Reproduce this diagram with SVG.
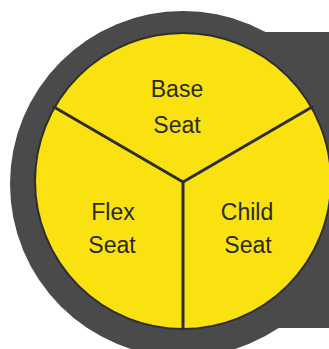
<svg xmlns="http://www.w3.org/2000/svg" width="329" height="349" viewBox="0 0 329 349">
<style>
.lbl{font-family:"Liberation Sans",Arial,sans-serif;font-size:23px;fill:#2a2a22;text-anchor:middle}
.div{stroke:#2e2e2e;stroke-width:3;fill:none;stroke-linecap:round}
</style>
<rect width="329" height="349" fill="#ffffff"/>
<rect id="backdrop" x="180" y="32" width="149" height="296" fill="#4a4a4a"/>
<circle id="ring" cx="183" cy="184" r="173" fill="#4a4a4a"/>
<circle id="disc" cx="183" cy="181" r="148" fill="#f9e20f" stroke="#2e2e2e" stroke-width="2"/>
<g id="connectors">
<line class="div" x1="183" y1="182" x2="183" y2="329"/>
<line class="div" x1="183" y1="182" x2="54" y2="107"/>
<line class="div" x1="183" y1="182" x2="312" y2="107"/>
</g>
<g id="base"><text class="lbl" x="177" y="97">Base</text><text class="lbl" x="177" y="133">Seat</text></g>
<g id="flex"><text class="lbl" x="113" y="220">Flex</text><text class="lbl" x="112" y="253">Seat</text></g>
<g id="child"><text class="lbl" x="247" y="220">Child</text><text class="lbl" x="248" y="253">Seat</text></g>
</svg>
